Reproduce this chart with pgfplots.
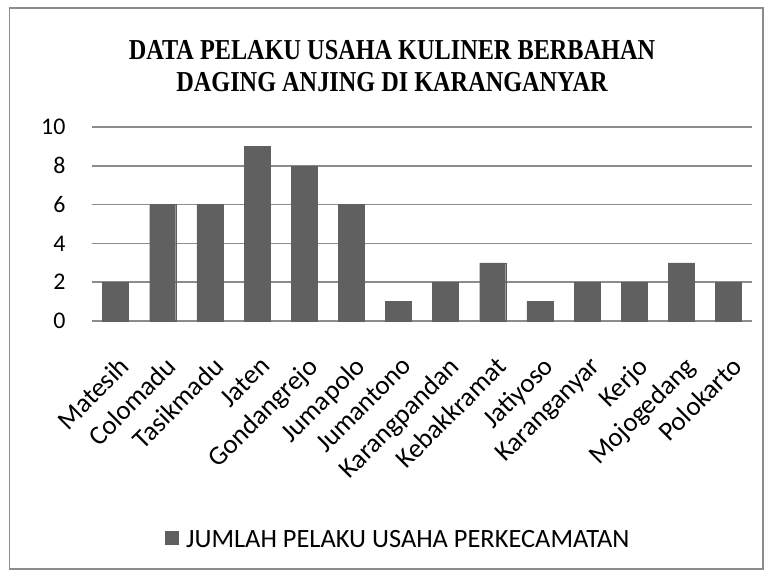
\documentclass[border=0pt]{standalone}
\usepackage{fontspec}
\setmainfont{Carlito}
\newfontfamily\titlefont{Liberation Serif}
\usepackage{pgfplots}
\pgfplotsset{compat=1.18}
\definecolor{barc}{RGB}{96,96,96}
\definecolor{gridc}{RGB}{140,140,140}
\begin{document}
\begin{tikzpicture}
\path[use as bounding box] (0bp,0bp) rectangle (772bp,576bp);
\draw[gridc,line width=1.5bp] (9.5bp,7bp) rectangle (763bp,568bp);
\node[align=center,font=\titlefont\fontsize{29}{33}\selectfont\bfseries] at (392bp,510bp)
  {\scalebox{0.84}[1]{DATA PELAKU USAHA KULINER BERBAHAN}\\[-1pt]\scalebox{0.84}[1]{DAGING ANJING DI KARANGANYAR}};
\begin{axis}[
  at={(92bp,255bp)}, anchor=south west,
  scale only axis, width=660bp, height=194bp,
  xmin=-0.5, xmax=13.5, ymin=0, ymax=10,
  ytick={0,2,4,6,8,10},
  xtick={0,...,13},
  xticklabels={Matesih,Colomadu,Tasikmadu,Jaten,Gondangrejo,Jumapolo,Jumantono,Karangpandan,Kebakkramat,Jatiyoso,Karanganyar,Kerjo,Mojogedang,Polokarto},
  axis line style={draw=none},
  major tick length=0pt,
  ymajorgrids, grid style={gridc,line width=1.5bp},
  /pgf/number format/assume math mode=true,
  yticklabel style={font=\fontsize{24}{26}\selectfont, xshift=-23bp},
  xticklabel style={font=\fontsize{27}{29}\selectfont, xshift=2bp, yshift=-34bp, rotate=45, anchor=north east, inner sep=0pt},
  ybar, bar width=26bp,
  clip=false,
]
\addplot[fill=barc, draw=barc] coordinates {
(0,2) (1,6) (2,6) (3,9) (4,8) (5,6) (6,1) (7,2) (8,3) (9,1) (10,2) (11,2) (12,3) (13,2)};
\end{axis}
\fill[barc] (165bp,31bp) rectangle (179bp,45bp);
\node[anchor=west,font=\fontsize{26.5}{28}\selectfont,inner sep=0pt] at (186bp,37bp) {JUMLAH PELAKU USAHA PERKECAMATAN};
\end{tikzpicture}
\end{document}
